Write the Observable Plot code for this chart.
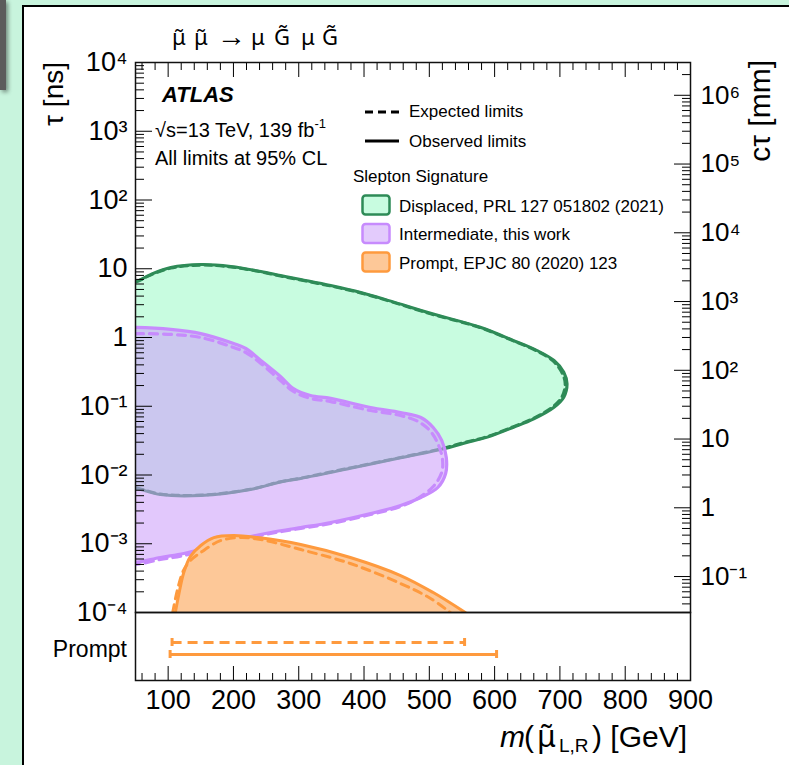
<!DOCTYPE html>
<html>
<head>
<meta charset="utf-8">
<script src="https://cdn.jsdelivr.net/npm/d3@7"></script>
<script src="https://cdn.jsdelivr.net/npm/@observablehq/plot@0.6"></script>
<style>
  html, body { margin: 0; padding: 0; background: #c8f4dd; overflow: hidden; }
  #page { position: relative; width: 789px; height: 765px; font-family: "Liberation Sans", Arial, sans-serif; }
  #panel { position: absolute; left: 22px; top: 5px; width: 800px; height: 800px; background: #fff;
           border-left: 2px solid #000; border-top: 2px solid #000; }
  #grip { position: absolute; left: 0; top: 0; width: 6px; height: 90px; background: #5c5c5c;
          box-shadow: 2px 2px 4px rgba(0,0,0,0.45); }
  #main, #strip, #overlay { position: absolute; left: 0; }
  #main { top: 0; }
  #strip { top: 612px; }
  #overlay { top: 0; pointer-events: none; }
  svg text { font-family: "Liberation Sans", Arial, sans-serif; }
  svg text .acc, svg text.acc { font-family: "Noto Sans", "DejaVu Sans", sans-serif; }
  svg text .arrow { font-family: "Liberation Sans", "DejaVu Sans", sans-serif; }
</style>
</head>
<body>
<div id="page">
  <div id="panel"></div>
  <div id="grip"></div>
  <div id="main"></div>
  <div id="strip"></div>
  <svg id="overlay" width="789" height="765" xmlns="http://www.w3.org/2000/svg">
    <!-- process title: smuon smuon -> mu gravitino mu gravitino -->
    <text class="acc" y="45" font-size="22" fill="#000"><tspan x="172">&#x3BC;&#x303;</tspan><tspan x="194">&#x3BC;&#x303;</tspan><tspan class="arrow" x="217" dy="1" font-size="29">&#x2192;</tspan><tspan x="251" dy="-1">&#x3BC;</tspan><tspan x="274">G&#x303;</tspan><tspan x="301">&#x3BC;</tspan><tspan x="322">G&#x303;</tspan></text>
    <!-- y axis titles -->
    <text transform="translate(63,62) rotate(-90)" text-anchor="end" font-size="28" fill="#000">&#x3C4; [ns]</text>
    <text transform="translate(770,60) rotate(-90)" text-anchor="end" font-size="30" fill="#000">c&#x3C4; [mm]</text>
    <!-- ATLAS label -->
    <text x="162" y="101.5" font-size="22" font-weight="bold" font-style="italic" fill="#000">ATLAS</text>
    <text x="155" y="137" font-size="20" fill="#000">&#x221A;s=13 TeV, 139 fb<tspan dy="-9" font-size="13">-1</tspan></text>
    <text x="155" y="165" font-size="20" fill="#000">All limits at 95% CL</text>
    <!-- line style legend -->
    <line x1="365" x2="399" y1="112" y2="112" stroke="#000" stroke-width="3" stroke-dasharray="8,5"/>
    <text x="409" y="117" font-size="17" fill="#000">Expected limits</text>
    <line x1="365" x2="399" y1="141" y2="141" stroke="#000" stroke-width="3"/>
    <text x="409" y="147" font-size="17" fill="#000">Observed limits</text>
    <text x="353" y="182" font-size="17" fill="#000">Slepton Signature</text>
    <rect x="362.5" y="195.5" width="27" height="19" rx="3" fill="#c8fce0" stroke="#2e8b57" stroke-width="2.5"/>
    <text x="399" y="212" font-size="17" fill="#000">Displaced, PRL 127 051802 (2021)</text>
    <rect x="362.5" y="224" width="27" height="19" rx="3" fill="#e3cbfc" stroke="#c78bfd" stroke-width="2.5"/>
    <text x="399" y="240" font-size="17" fill="#000">Intermediate, this work</text>
    <rect x="362.5" y="252.5" width="27" height="19" rx="3" fill="#fdc898" stroke="#fe9a3e" stroke-width="2.5"/>
    <text x="399" y="268.5" font-size="17" fill="#000">Prompt, EPJC 80 (2020) 123</text>
    <!-- prompt strip label -->
    <text x="127" y="657" text-anchor="end" font-size="23" fill="#000">Prompt</text>
    <!-- x axis title -->
    <text y="747" font-size="30" fill="#000"><tspan x="500" font-style="italic">m</tspan><tspan x="524">(</tspan><tspan class="acc" x="537">&#x3BC;&#x303;</tspan><tspan x="559" dy="5" font-size="19">L,R</tspan><tspan x="592" dy="-5">) [GeV]</tspan></text>
  </svg>
</div>
<script>
// ---------------- data ----------------
// Displaced slepton signature (green), observed contour: mass [GeV], lifetime tau [ns]
const dispObsMass = [30, 50, 73, 104, 150, 196, 242, 272, 303, 349, 395, 441, 502, 578, 629, 665, 691, 706, 711,
                     706, 691, 660, 629, 589, 553, 522, 456, 379, 303, 272, 226, 150, 88, 50, 30];
const dispObsTau  = [6.53, 6.53, 8.24, 10.4, 11.5, 10.8, 9.12, 7.98, 6.98, 5.70, 4.52, 3.38, 2.25, 1.41, 0.904, 0.647, 0.463, 0.313, 0.212,
                     0.1355, 0.0968, 0.0656, 0.0495, 0.0355, 0.029, 0.024, 0.0178, 0.0125, 0.0089, 0.0079, 0.00615, 0.00504, 0.0052, 0.00637, 0.00637];
// Displaced, expected contour
const dispExpMass = [30, 50, 73, 104, 150, 196, 242, 272, 303, 349, 395, 441, 502, 578, 629, 664, 689, 703, 708,
                     703, 689, 659, 628, 588, 552, 521, 456, 379, 303, 272, 226, 150, 88, 50, 30];
const dispExpTau  = [6.4, 6.4, 8.1, 10.2, 11.3, 10.6, 9.0, 7.85, 6.85, 5.6, 4.45, 3.33, 2.21, 1.39, 0.89, 0.64, 0.46, 0.31, 0.212,
                     0.137, 0.098, 0.0665, 0.0502, 0.036, 0.0295, 0.0245, 0.018, 0.0127, 0.009, 0.008, 0.0062, 0.0051, 0.0053, 0.0065, 0.0065];

// Intermediate slepton signature (purple, this work), observed contour
const interObsMass = [30, 50, 104, 150, 196, 219, 242, 272, 292, 318, 349, 410, 456, 487, 506, 519, 526, 525, 513,
                      487, 456, 410, 349, 303, 257, 200, 165, 124, 88, 50, 30];
const interObsTau  = [1.40, 1.40, 1.31, 1.14, 0.845, 0.692, 0.463, 0.271, 0.181, 0.143, 0.130, 0.0959, 0.0811, 0.0686, 0.0491, 0.0318, 0.018, 0.0105, 0.00658,
                      0.00471, 0.0036, 0.00275, 0.00204, 0.00172, 0.00146, 0.00111, 0.000912, 0.000721, 0.000631, 0.000533, 0.000533];
// Intermediate, expected contour
const interExpMass = [30, 50, 104, 150, 196, 219, 242, 272, 292, 318, 349, 410, 456, 483, 502, 513, 520, 519, 506,
                      482, 456, 410, 349, 303, 257, 200, 165, 124, 88, 50, 30];
const interExpTau  = [1.14, 1.14, 1.11, 1.0, 0.74, 0.605, 0.419, 0.237, 0.164, 0.130, 0.117, 0.0867, 0.0733, 0.060, 0.043, 0.0287, 0.0174, 0.0109, 0.0068,
                      0.00455, 0.00348, 0.00266, 0.00197, 0.00167, 0.00141, 0.00108, 0.00088, 0.000675, 0.00059, 0.000499, 0.000499];

// Prompt slepton signature (orange), observed and expected upper edges
const promptObsMass = [111, 116, 123.5, 134, 150, 170, 200, 237, 303, 379, 456, 506, 555];
const promptObsTau  = [1e-4, 1.77e-4, 3.69e-4, 6.53e-4, 9.44e-4, 1.23e-3, 1.32e-3, 1.23e-3, 9.75e-4, 6.31e-4, 3.45e-4, 1.95e-4, 1e-4];
const promptExpMass = [107, 114, 123.5, 134, 150, 180, 211, 242, 303, 379, 456, 502, 532];
const promptExpTau  = [1e-4, 2.09e-4, 4.08e-4, 5.7e-4, 7.47e-4, 1.11e-3, 1.23e-3, 1.15e-3, 8.24e-4, 5.16e-4, 2.64e-4, 1.6e-4, 1e-4];

// Prompt-lifetime mass exclusion ranges [GeV]
const promptLimitNames = ["Expected", "Observed"];
const promptLimitLow   = [106, 103];
const promptLimitHigh  = [554, 603];

// axis ticks & labels
const xDomain = [50, 900];
const xMajor = [100, 200, 300, 400, 500, 600, 700, 800, 900];
const xMinor = [60, 80, 120, 140, 160, 180, 220, 240, 260, 280, 320, 340, 360, 380, 420, 440, 460, 480,
                520, 540, 560, 580, 620, 640, 660, 680, 720, 740, 760, 780, 820, 840, 860, 880];
const yMajor = [1e-4, 1e-3, 1e-2, 1e-1, 1, 10, 1e2, 1e3, 1e4];
const yMajorLabels = ["10\u207B\u2074", "10\u207B\u00B3", "10\u207B\u00B2", "10\u207B\u00B9", "1", "10", "10\u00B2", "10\u00B3", "10\u2074"];
const ctMajor = [0.1, 1, 10, 100, 1e3, 1e4, 1e5, 1e6];          // c*tau [mm]
const ctMajorLabels = ["10\u207B\u00B9", "1", "10", "10\u00B2", "10\u00B3", "10\u2074", "10\u2075", "10\u2076"];
const C_MM_PER_NS = 299.792458;

// ---------------- colours ----------------
const GREEN_FILL = "#c8fce0", GREEN_LINE = "#2e8b57";
const PURPLE_FILL = "rgb(205,160,250)", PURPLE_LINE = "#c78bfd";
const ORANGE_FILL = "#fdc898", ORANGE_LINE = "#fe9a3e";
const FONT = '"Liberation Sans", Arial, sans-serif';

// ---------------- build ----------------
const rows = (mass, tau) => mass.map((m, i) => ({mass: m, tau: tau[i]}));
const dispObs = rows(dispObsMass, dispObsTau), dispExp = rows(dispExpMass, dispExpTau);
const interObs = rows(interObsMass, interObsTau), interExp = rows(interExpMass, interExpTau);
const promptObs = rows(promptObsMass, promptObsTau), promptExp = rows(promptExpMass, promptExpTau);
const limits = promptLimitNames.map((name, i) => ({name, lo: promptLimitLow[i], hi: promptLimitHigh[i]}));

const yMinor = [];
for (let k = -4; k < 4; k++) for (let j = 2; j <= 9; j++) yMinor.push(j * Math.pow(10, k));
const ctMinor = [];
for (let k = -2; k <= 6; k++) for (let j = 2; j <= 9; j++) {
  const v = j * Math.pow(10, k);
  if (v > 1e-4 * C_MM_PER_NS && v < 1e4 * C_MM_PER_NS) ctMinor.push(v / C_MM_PER_NS);
}
const ctMajorTau = ctMajor.map(v => v / C_MM_PER_NS);
const ctLabelRows = ctMajorTau.map((tau, i) => ({tau, label: ctMajorLabels[i]}));
const nearestLabel = (values, labels) => d => labels[d3.minIndex(values, v => Math.abs(Math.log(v / d)))];
const yFmt = nearestLabel(yMajor, yMajorLabels);

const XY = {x: "mass", y: "tau"};
const closed = {...XY, curve: "catmull-rom-closed", clip: true};
const open = {...XY, curve: "catmull-rom", clip: true};

const main = Plot.plot({
  width: 789, height: 613,
  marginLeft: 135, marginRight: 99, marginTop: 62, marginBottom: 1,
  style: {background: "transparent", fontFamily: FONT, color: "#000", overflow: "visible"},
  x: {domain: xDomain},
  y: {type: "log", domain: [1e-4, 1e4]},
  marks: [
    // displaced
    Plot.line(dispObs, {...closed, fill: GREEN_FILL, stroke: "none"}),
    Plot.line(dispExp, {...closed, stroke: GREEN_LINE, strokeWidth: 3, strokeDasharray: "7,5"}),
    Plot.line(dispObs, {...closed, stroke: GREEN_LINE, strokeWidth: 3}),
    // intermediate
    Plot.line(interObs, {...closed, fill: PURPLE_FILL, fillOpacity: 0.58, stroke: "none"}),
    Plot.line(interExp, {...closed, stroke: PURPLE_LINE, strokeWidth: 3.2, strokeDasharray: "8,6"}),
    Plot.line(interObs, {...closed, stroke: PURPLE_LINE, strokeWidth: 3.2}),
    // prompt
    Plot.line(promptObs, {...open, fill: ORANGE_FILL, stroke: "none"}),
    Plot.line(promptExp, {...open, stroke: ORANGE_LINE, strokeWidth: 3, strokeDasharray: "8,6"}),
    Plot.line(promptObs, {...open, stroke: ORANGE_LINE, strokeWidth: 3}),
    // axes (ticks pointing inward)
    Plot.axisY(yMajor, {anchor: "left", tickSize: -17, tickPadding: 25, tickFormat: yFmt, fontSize: 27, label: null}),
    Plot.axisY(yMinor, {anchor: "left", tickSize: -9, tickFormat: () => "", label: null}),
    Plot.axisY(ctMinor, {anchor: "right", tickSize: -9, tickFormat: () => "", label: null}),
    Plot.axisY(ctMajorTau, {anchor: "right", tickSize: -17, tickFormat: () => "", label: null}),
    // c*tau tick labels on the right edge of the frame
    Plot.text(ctLabelRows, {y: "tau", text: "label", frameAnchor: "right", textAnchor: "start", dx: 10, fontSize: 26, fill: "#000"}),
    Plot.axisX(xMajor, {anchor: "top", tickSize: -14, tickFormat: () => "", label: null}),
    Plot.axisX(xMinor, {anchor: "top", tickSize: -7, tickFormat: () => "", label: null}),
    Plot.frame({stroke: "#111", strokeWidth: 1.5})
  ]
});
document.getElementById("main").appendChild(main);

const strip = Plot.plot({
  width: 789, height: 153,
  marginLeft: 135, marginRight: 99, marginTop: 0, marginBottom: 85,
  style: {background: "transparent", fontFamily: FONT, color: "#000", overflow: "visible"},
  x: {domain: xDomain},
  y: {type: "band", domain: promptLimitNames, range: [25.5, 47.5], paddingInner: 0.3, paddingOuter: 0, axis: null},
  marks: [
    Plot.ruleY(limits.filter(d => d.name === "Expected"), {y: "name", x1: "lo", x2: "hi", stroke: ORANGE_LINE, strokeWidth: 3, strokeDasharray: "10,6"}),
    Plot.ruleY(limits.filter(d => d.name === "Observed"), {y: "name", x1: "lo", x2: "hi", stroke: ORANGE_LINE, strokeWidth: 3}),
    Plot.tickX(limits, {x: "lo", y: "name", stroke: ORANGE_LINE, strokeWidth: 3}),
    Plot.tickX(limits, {x: "hi", y: "name", stroke: ORANGE_LINE, strokeWidth: 3}),
    Plot.axisX(xMajor, {anchor: "bottom", tickSize: -14, tickPadding: 23, fontSize: 27, tickFormat: d => String(d), label: null}),
    Plot.axisX(xMinor, {anchor: "bottom", tickSize: -7, tickFormat: () => "", label: null}),
    Plot.frame({stroke: "#111", strokeWidth: 1.5})
  ]
});
document.getElementById("strip").appendChild(strip);
</script>
</body>
</html>
